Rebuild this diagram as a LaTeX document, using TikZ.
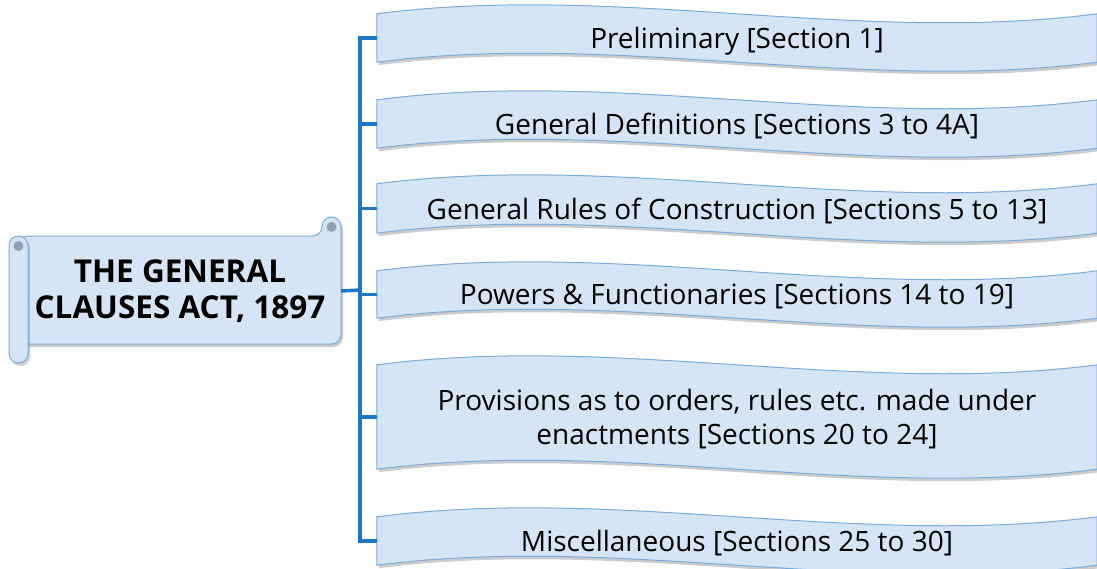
\documentclass[tikz,border=0pt]{standalone}
\usepackage{fontspec}
\setmainfont{Open Sans}
\usetikzlibrary{shadows,backgrounds}

\definecolor{paleblue}{RGB}{213,229,245}
\definecolor{edgeblue}{RGB}{120,172,220}
\definecolor{linkblue}{RGB}{30,120,200}
\definecolor{curlblue}{RGB}{140,160,182}

% wave shaped banner drawn round a named node
\newcommand{\wavebanner}[1]{%
  \filldraw[banner] (#1.north west)
    .. controls ([xshift=240pt,yshift=31pt]#1.north west) and ([xshift=480pt,yshift=-31pt]#1.north west) .. (#1.north east)
    -- (#1.south east)
    .. controls ([xshift=-240pt,yshift=-31pt]#1.south east) and ([xshift=-480pt,yshift=31pt]#1.south east) .. (#1.south west)
    -- cycle;}

\begin{document}
\begin{tikzpicture}[
    x=1pt, y=-1pt,
    banner/.style={fill=paleblue, draw=edgeblue, line width=1pt,
      drop shadow={shadow xshift=2pt, shadow yshift=-3pt, opacity=0.4}},
    section/.style={minimum width=720pt, inner sep=0pt, align=center,
      text depth=0pt, font=\fontsize{28}{34}\selectfont},
    title/.style={minimum width=322pt, minimum height=108pt, inner sep=0pt,
      align=center, font=\fontsize{31.5}{36}\selectfont\bfseries},
    link/.style={draw=linkblue, line width=3.5pt}
]
    \useasboundingbox (0,0) rectangle (1097,568);

    % Scroll
    \filldraw[banner, rounded corners=9.5pt] (18.5,236) -- (322,236) -- (322,217) -- (341,217) -- (341,344) -- (18.5,344) -- cycle;
    \filldraw[banner, rounded corners=9.5pt] (9,236) rectangle (28,363);
    \fill[curlblue] (331.5,227) circle (5pt);
    \fill[curlblue] (18.5,246) circle (5pt);
    \node[title] (act) at (180,291) {THE GENERAL\\CLAUSES ACT, 1897};

    % Sections
    \node[section, minimum height=48pt] (prelim) at (737,38) {Preliminary [Section 1]};
    \node[section, minimum height=48pt] (defs) at (737,124) {General Definitions [Sections 3 to 4A]};
    \node[section, minimum height=49pt] (rules) at (737,208.5) {General Rules of Construction [Sections 5 to 13]};
    \node[section, minimum height=47pt] (powers) at (737,294.5) {Powers \& Functionaries [Sections 14 to 19]};
    \node[section, minimum height=104pt] (orders) at (737,417) {Provisions as to orders, rules etc. made under\\enactments [Sections 20 to 24]};
    \node[section, minimum height=48pt] (misc) at (737,541) {Miscellaneous [Sections 25 to 30]};

    \begin{scope}[on background layer]
        \foreach \n in {prelim,defs,rules,powers,orders,misc}
            \wavebanner{\n};
    \end{scope}

    % Connectors
    \coordinate (spine) at (360,290);
    \draw[link] (act.east) -- (spine);
    \draw[link] (prelim.west) -- (prelim.west -| spine) -- (misc.west -| spine) -- (misc.west);
    \foreach \n in {defs,rules,powers,orders}
        \draw[link] (\n.west -| spine) -- (\n.west);
\end{tikzpicture}
\end{document}
